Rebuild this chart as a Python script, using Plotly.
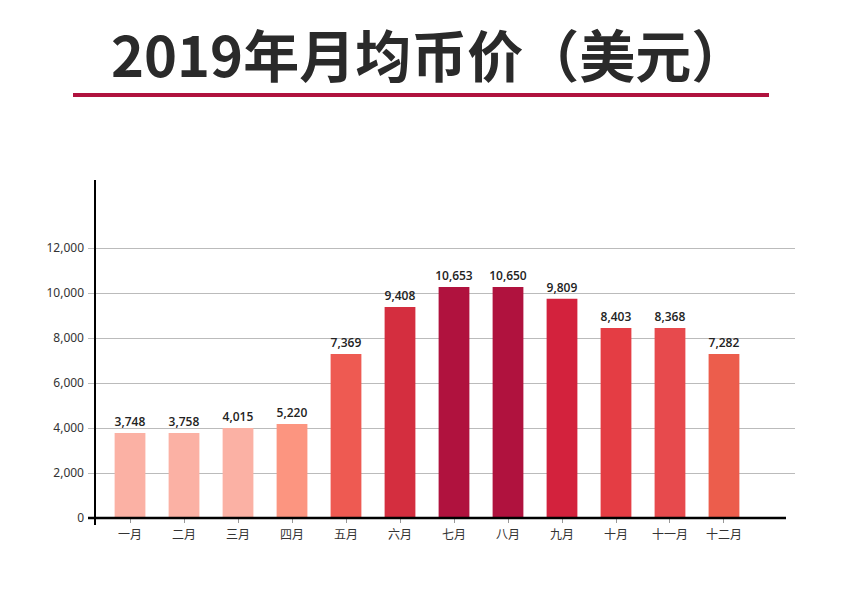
import plotly.graph_objects as go

months = ["一月", "二月", "三月", "四月", "五月", "六月",
          "七月", "八月", "九月", "十月", "十一月", "十二月"]
# bar heights as drawn in the picture
bar_values = [3780, 3780, 4000, 4180, 7290, 9380,
              10270, 10270, 9740, 8440, 8440, 7290]
# value labels as printed above the bars
value_labels = ["3,748", "3,758", "4,015", "5,220", "7,369", "9,408",
                "10,653", "10,650", "9,809", "8,403", "8,368", "7,282"]
bar_colors = ["#FBB1A4", "#FBB1A4", "#FBB1A4", "#FC9580", "#EE5A52", "#D42E3F",
              "#B0123E", "#B0123E", "#D3223D", "#E43D44", "#E74A4D", "#EC5D4C"]
y_ticks = [0, 2000, 4000, 6000, 8000, 10000, 12000]
y_tick_labels = ["0", "2,000", "4,000", "6,000", "8,000", "10,000", "12,000"]
title_text = "2019年月均币价（美元）"

fig = go.Figure()
fig.add_trace(go.Bar(
    x=months, y=bar_values,
    marker=dict(color=bar_colors, line=dict(width=0)),
    width=0.57,
    text=value_labels, texttemplate="%{text}",
    textposition="outside", constraintext="none", cliponaxis=False,
    textfont=dict(family="Open Sans, sans-serif", size=12, color="#222222",
                  weight=600),
    hoverinfo="skip",
))

fig.update_layout(
    width=842, height=615,
    margin=dict(l=80, r=55, t=172, b=105),
    paper_bgcolor="white", plot_bgcolor="white",
    showlegend=False,
    xaxis=dict(
        type="category", range=[-0.778, 12.315],
        showline=False, showgrid=False, zeroline=False,
        ticks="outside", ticklen=4, tickcolor="#999999", tickwidth=1,
        ticklabelstandoff=2,
        tickfont=dict(family="Noto Sans CJK SC, sans-serif", size=12, color="#333333"),
    ),
    yaxis=dict(
        range=[0, 15022], tickvals=y_ticks, ticktext=y_tick_labels,
        showline=False, showgrid=True, gridcolor="#BBBBBB", gridwidth=1,
        zeroline=False, ticks="", ticklabelstandoff=3,
        tickfont=dict(family="Noto Sans, sans-serif", size=12, color="#333333"),
    ),
    shapes=[
        # y axis line
        dict(type="line", xref="paper", yref="paper",
             x0=7 / 707, x1=7 / 707, y0=-7 / 338, y1=1.0,
             line=dict(color="#000000", width=2)),
        # x axis baseline
        dict(type="line", xref="paper", yref="paper",
             x0=0, x1=698 / 707, y0=0, y1=0,
             line=dict(color="#000000", width=2.5)),
        # title underline
        dict(type="rect", xref="paper", yref="paper",
             x0=(73 - 88) / 707, x1=(769 - 88) / 707,
             y0=(518 - 97) / 338, y1=(518 - 93) / 338,
             line=dict(width=0), fillcolor="#B0123E"),
    ],
    annotations=[
        dict(text=title_text, xref="paper", yref="paper",
             x=(429 - 88) / 707, y=(518 - 53) / 338,
             xanchor="center", yanchor="middle", showarrow=False,
             font=dict(family="Noto Sans CJK SC, sans-serif", size=56,
                       color="#2A2A2A", weight="bold")),
    ],
)

fig.write_html("out.html")
